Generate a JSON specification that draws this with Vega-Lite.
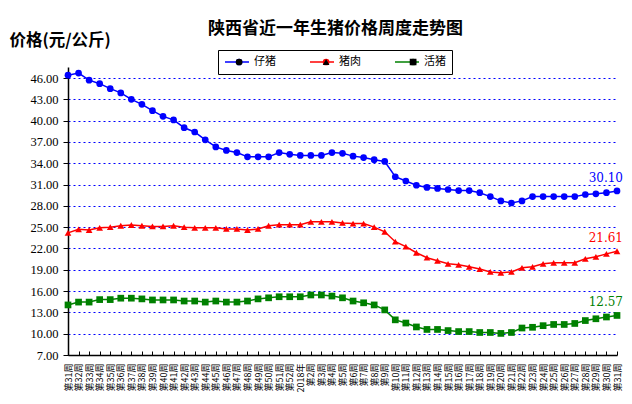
{
  "$schema": "https://vega.github.io/schema/vega-lite/v6.json",
  "width": 549,
  "height": 288,
  "autosize": "none",
  "padding": {"left": 68, "top": 67, "right": 15, "bottom": 49},
  "background": "white",
  "title": {
    "text": "陕西省近一年生猪价格周度走势图",
    "font": "Noto Sans CJK SC",
    "fontSize": 17,
    "fontWeight": "bold",
    "color": "black",
    "anchor": "middle",
    "baseline": "bottom",
    "dx": -7,
    "dy": 25,
    "offset": 2
  },
  "data": {
    "values": [
      {"周": "2017年第31周", "仔猪": 46.4, "猪肉": 24.2, "活猪": 14.05},
      {"周": "2017年第32周", "仔猪": 46.7, "猪肉": 24.7, "活猪": 14.45},
      {"周": "2017年第33周", "仔猪": 45.7, "猪肉": 24.6, "活猪": 14.45},
      {"周": "2017年第34周", "仔猪": 45.2, "猪肉": 24.9, "活猪": 14.8},
      {"周": "2017年第35周", "仔猪": 44.5, "猪肉": 25.0, "活猪": 14.8},
      {"周": "2017年第36周", "仔猪": 43.9, "猪肉": 25.2, "活猪": 15.0},
      {"周": "2017年第37周", "仔猪": 43.0, "猪肉": 25.3, "活猪": 15.0},
      {"周": "2017年第38周", "仔猪": 42.3, "猪肉": 25.2, "活猪": 14.9},
      {"周": "2017年第39周", "仔猪": 41.4, "猪肉": 25.1, "活猪": 14.75},
      {"周": "2017年第40周", "仔猪": 40.6, "猪肉": 25.1, "活猪": 14.75},
      {"周": "2017年第41周", "仔猪": 40.1, "猪肉": 25.2, "活猪": 14.75},
      {"周": "2017年第42周", "仔猪": 39.0, "猪肉": 25.0, "活猪": 14.6},
      {"周": "2017年第43周", "仔猪": 38.4, "猪肉": 24.9, "活猪": 14.6},
      {"周": "2017年第44周", "仔猪": 37.3, "猪肉": 24.9, "活猪": 14.45},
      {"周": "2017年第45周", "仔猪": 36.3, "猪肉": 24.9, "活猪": 14.6},
      {"周": "2017年第46周", "仔猪": 35.8, "猪肉": 24.75, "活猪": 14.45},
      {"周": "2017年第47周", "仔猪": 35.5, "猪肉": 24.75, "活猪": 14.45},
      {"周": "2017年第48周", "仔猪": 34.9, "猪肉": 24.6, "活猪": 14.6},
      {"周": "2017年第49周", "仔猪": 34.9, "猪肉": 24.75, "活猪": 14.9},
      {"周": "2017年第50周", "仔猪": 34.9, "猪肉": 25.2, "活猪": 15.05},
      {"周": "2017年第51周", "仔猪": 35.5, "猪肉": 25.35, "活猪": 15.2},
      {"周": "2017年第52周", "仔猪": 35.25, "猪肉": 25.35, "活猪": 15.2},
      {"周": "2018年第1周", "仔猪": 35.1, "猪肉": 25.35, "活猪": 15.2},
      {"周": "2018年第2周", "仔猪": 35.1, "猪肉": 25.75, "活猪": 15.45},
      {"周": "2018年第3周", "仔猪": 35.1, "猪肉": 25.75, "活猪": 15.45},
      {"周": "2018年第4周", "仔猪": 35.5, "猪肉": 25.75, "活猪": 15.3},
      {"周": "2018年第5周", "仔猪": 35.4, "猪肉": 25.6, "活猪": 15.05},
      {"周": "2018年第6周", "仔猪": 35.0, "猪肉": 25.5, "活猪": 14.6},
      {"周": "2018年第7周", "仔猪": 34.8, "猪肉": 25.5, "活猪": 14.35},
      {"周": "2018年第8周", "仔猪": 34.5, "猪肉": 25.0, "活猪": 14.05},
      {"周": "2018年第9周", "仔猪": 34.25, "猪肉": 24.35, "活猪": 13.35},
      {"周": "2018年第10周", "仔猪": 32.1, "猪肉": 22.95, "活猪": 11.95},
      {"周": "2018年第11周", "仔猪": 31.5, "猪肉": 22.25, "活猪": 11.5},
      {"周": "2018年第12周", "仔猪": 30.9, "猪肉": 21.4, "活猪": 10.95},
      {"周": "2018年第13周", "仔猪": 30.6, "猪肉": 20.7, "活猪": 10.6},
      {"周": "2018年第14周", "仔猪": 30.45, "猪肉": 20.27, "活猪": 10.6},
      {"周": "2018年第15周", "仔猪": 30.3, "猪肉": 19.84, "活猪": 10.44},
      {"周": "2018年第16周", "仔猪": 30.15, "猪肉": 19.7, "活猪": 10.3},
      {"周": "2018年第17周", "仔猪": 30.15, "猪肉": 19.42, "活猪": 10.3},
      {"周": "2018年第18周", "仔猪": 29.85, "猪肉": 19.1, "活猪": 10.17},
      {"周": "2018年第19周", "仔猪": 29.3, "猪肉": 18.7, "活猪": 10.17},
      {"周": "2018年第20周", "仔猪": 28.7, "猪肉": 18.57, "活猪": 10.04},
      {"周": "2018年第21周", "仔猪": 28.4, "猪肉": 18.7, "活猪": 10.17},
      {"周": "2018年第22周", "仔猪": 28.7, "猪肉": 19.28, "活猪": 10.8},
      {"周": "2018年第23周", "仔猪": 29.3, "猪肉": 19.42, "活猪": 10.9},
      {"周": "2018年第24周", "仔猪": 29.3, "猪肉": 19.84, "活猪": 11.13},
      {"周": "2018年第25周", "仔猪": 29.3, "猪肉": 19.98, "活猪": 11.3},
      {"周": "2018年第26周", "仔猪": 29.3, "猪肉": 19.98, "活猪": 11.3},
      {"周": "2018年第27周", "仔猪": 29.3, "猪肉": 19.98, "活猪": 11.44},
      {"周": "2018年第28周", "仔猪": 29.6, "猪肉": 20.54, "活猪": 11.85},
      {"周": "2018年第29周", "仔猪": 29.7, "猪肉": 20.82, "活猪": 12.1},
      {"周": "2018年第30周", "仔猪": 29.85, "猪肉": 21.24, "活猪": 12.35},
      {"周": "2018年第31周", "仔猪": 30.10, "猪肉": 21.61, "活猪": 12.57}
    ]
  },
  "transform": [{"fold": ["仔猪", "猪肉", "活猪"], "as": ["品种", "价格"]}],
  "encoding": {
    "x": {
      "field": "周",
      "type": "ordinal",
      "sort": null,
      "scale": {"type": "point", "padding": 0},
      "axis": {
        "title": null,
        "labelAngle": -90,
        "labelFont": "Noto Sans CJK SC",
        "labelFontSize": 9,
        "labelColor": "black",
        "labelOverlap": false,
        "labelExpr": "datum.label === '2018年第1周' ? '2018年' : slice(datum.label, 5)",
        "domainColor": "black",
        "domainWidth": 1.5,
        "tickColor": "black",
        "tickSize": -4,
        "labelPadding": 12,
        "grid": false
      }
    },
    "y": {
      "field": "价格",
      "type": "quantitative",
      "scale": {"domain": [7, 47.55], "nice": false, "zero": false},
      "axis": {
        "title": "价格(元/公斤)",
        "titleAngle": 0,
        "titleX": -59,
        "titleY": -27,
        "titleAlign": "left",
        "titleBaseline": "middle",
        "titleFont": "Noto Sans CJK SC",
        "titleFontSize": 16.5,
        "titleFontWeight": "bold",
        "titleColor": "black",
        "values": [7, 10, 13, 16, 19, 22, 25, 28, 31, 34, 37, 40, 43, 46],
        "format": ".2f",
        "labelFont": "Liberation Serif",
        "labelFontSize": 12.5,
        "labelColor": "black",
        "labelPadding": 5,
        "grid": true,
        "gridColor": "#0000ff",
        "gridDash": [2, 3],
        "gridWidth": 1,
        "domainColor": "black",
        "domainWidth": 1.5,
        "tickColor": "black",
        "tickSize": 5
      }
    }
  },
  "layer": [
    {
      "mark": {"type": "line", "strokeWidth": 1.5},
      "encoding": {
        "stroke": {
          "field": "品种",
          "type": "nominal",
          "scale": {"domain": ["仔猪", "猪肉", "活猪"], "range": ["#0000ff", "#ff0000", "#008000"]},
          "legend": {
            "orient": "none",
            "legendX": 150,
            "legendY": -17,
            "direction": "horizontal",
            "title": null,
            "strokeColor": "black",
            "padding": 6,
            "clipHeight": 12,
            "symbolType": "stroke",
            "symbolSize": 576,
            "symbolStrokeWidth": 1.5,
            "labelFont": "Noto Sans CJK SC",
            "labelFontSize": 11,
            "labelColor": "black",
            "labelOffset": 4,
            "columnPadding": 33
          }
        }
      }
    },
    {
      "mark": {"type": "point", "filled": true, "opacity": 1, "size": 45},
      "encoding": {
        "color": {
          "field": "品种",
          "type": "nominal",
          "sort": ["仔猪", "猪肉", "活猪"],
          "scale": {"range": ["#0000ff", "#ff0000", "#008000"]},
          "legend": {
            "orient": "none",
            "legendX": 159.6,
            "legendY": -17,
            "direction": "horizontal",
            "title": null,
            "padding": 6,
            "clipHeight": 12,
            "symbolSize": 45,
            "symbolOpacity": 1,
            "labelExpr": "''",
            "labelFontSize": 11,
            "labelOffset": 0,
            "columnPadding": 76
          }
        },
        "shape": {
          "field": "品种",
          "type": "nominal",
          "sort": ["仔猪", "猪肉", "活猪"],
          "scale": {"range": ["circle", "triangle-up", "square"]},
          "legend": {
            "orient": "none",
            "legendX": 159.6,
            "legendY": -17,
            "direction": "horizontal",
            "title": null,
            "padding": 6,
            "clipHeight": 12,
            "symbolSize": 45,
            "symbolOpacity": 1,
            "labelExpr": "''",
            "labelFontSize": 11,
            "labelOffset": 0,
            "columnPadding": 76
          }
        }
      }
    },
    {
      "transform": [{"filter": "datum['周'] === '2018年第31周'"}],
      "mark": {"type": "text", "align": "right", "baseline": "middle", "dx": 6, "dy": -13, "font": "DejaVu Serif", "fontSize": 12},
      "encoding": {
        "text": {"field": "价格", "type": "quantitative", "format": ".2f"},
        "fill": {
          "field": "品种",
          "type": "nominal",
          "scale": {"range": ["#0000ff", "#008000", "#ff0000"]},
          "legend": null
        }
      }
    }
  ],
  "config": {"view": {"stroke": null}}
}
